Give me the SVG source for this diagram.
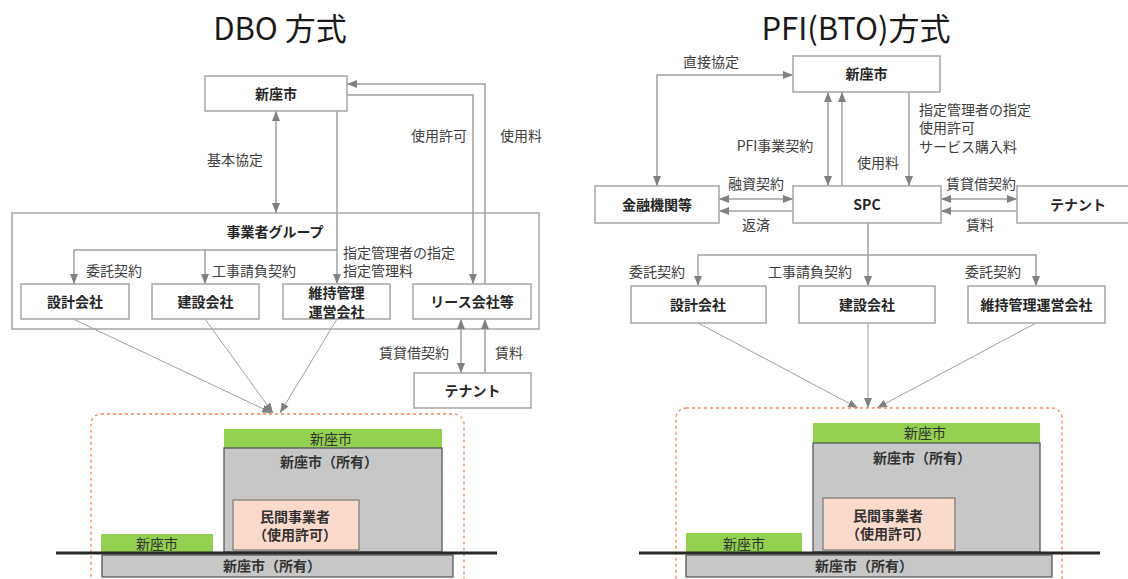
<svg xmlns="http://www.w3.org/2000/svg" width="1128" height="579" viewBox="0 0 1128 579">
<defs>
<marker id="ah" viewBox="0 0 10 8" refX="10" refY="4" markerWidth="10" markerHeight="8" markerUnits="userSpaceOnUse" orient="auto-start-reverse">
<path d="M0,0 L10,4 L0,8 z" fill="#808080"/>
</marker>
<style>
text{font-family:"Noto Sans CJK JP","Noto Sans",sans-serif;}
.title{font-size:31px;fill:#1a1a1a;text-anchor:middle;}
.box{fill:#fff;stroke:#a6a6a6;stroke-width:1.5;}
.bl{font-size:14px;font-weight:bold;fill:#262626;text-anchor:middle;}
.lb{font-size:14px;fill:#404040;}
.m{text-anchor:middle;}
.c{fill:none;stroke:#a0a0a0;stroke-width:1.5;}
.ct{fill:none;stroke:#a0a0a0;stroke-width:1;}
.dash{fill:none;stroke:#f4875a;stroke-width:1.3;stroke-dasharray:3 3;}
.green{fill:#92d050;}
.gray{fill:#c7c7c7;stroke:#595959;stroke-width:1.3;}
.peach{fill:#fcdacb;stroke:#7f7f7f;stroke-width:1.3;}
.gt{font-size:14px;fill:#333;text-anchor:middle;}
.gb{font-size:14px;font-weight:bold;fill:#333;text-anchor:middle;}
</style>
</defs>
<rect width="1128" height="579" fill="#fff"/>

<text class="title" x="280" y="40">DBO 方式</text>
<text class="title" x="856" y="40">PFI(BTO)方式</text>

<!-- LEFT: DBO -->
<g id="l-group"><rect class="box" x="12" y="213" width="527" height="116"/><text class="bl" x="275" y="237">事業者グループ</text></g>

<g id="l-connectors">
<path class="c" d="M485,284 V84 H347" marker-end="url(#ah)"/>
<path class="c" d="M347,95 H473 V284" marker-end="url(#ah)"/>
<path class="c" d="M276,111 V213" marker-start="url(#ah)" marker-end="url(#ah)"/>
<path class="c" d="M337,111 V284" marker-end="url(#ah)"/>
<path class="c" d="M337,250 H74 V284" marker-end="url(#ah)"/>
<path class="c" d="M205,250 V284" marker-end="url(#ah)"/>
<path class="c" d="M461,319 V373" marker-start="url(#ah)" marker-end="url(#ah)"/>
<path class="c" d="M485,373 V319" marker-end="url(#ah)"/>
<path class="ct" d="M73,319 L272,413" marker-end="url(#ah)"/>
<path class="ct" d="M205,319 L273,413" marker-end="url(#ah)"/>
<path class="ct" d="M337,319 L280,413" marker-end="url(#ah)"/>
</g>

<g id="l-labels">
<text class="lb m" x="439" y="141">使用許可</text>
<text class="lb m" x="521" y="141">使用料</text>
<text class="lb m" x="235" y="165">基本協定</text>
<text class="lb m" x="114" y="276">委託契約</text>
<text class="lb m" x="254" y="276">工事請負契約</text>
<text class="lb" x="343" y="258">指定管理者の指定</text>
<text class="lb" x="343" y="276">指定管理料</text>
<text class="lb m" x="414" y="358">賃貸借契約</text>
<text class="lb m" x="509" y="358">賃料</text>
</g>

<g id="l-city"><rect class="box" x="205" y="76" width="142" height="35"/><text class="bl" x="276" y="98.5">新座市</text></g>
<g id="l-design"><rect class="box" x="21" y="284" width="108" height="35"/><text class="bl" x="75" y="306.5">設計会社</text></g>
<g id="l-build"><rect class="box" x="152" y="284" width="107" height="35"/><text class="bl" x="205.5" y="306.5">建設会社</text></g>
<g id="l-ops"><rect class="box" x="283" y="284" width="107" height="35"/><text class="bl" x="336.5" y="298">維持管理</text><text class="bl" x="336.5" y="316.5">運営会社</text></g>
<g id="l-lease"><rect class="box" x="413" y="284" width="118" height="35"/><text class="bl" x="472" y="306.5">リース会社等</text></g>
<g id="l-tenant"><rect class="box" x="414" y="373" width="117" height="35"/><text class="bl" x="472.5" y="395.5">テナント</text></g>

<g id="l-building">
<rect class="dash" x="91" y="414" width="373" height="200" rx="10"/>
<rect class="green" x="224" y="429" width="218" height="19"/>
<text class="gt" x="331" y="443.5">新座市</text>
<rect class="gray" x="224" y="448" width="218" height="104"/>
<text class="gb" x="329" y="467">新座市（所有）</text>
<rect class="peach" x="233" y="500" width="126" height="50"/>
<text class="gb" x="295" y="522">民間事業者</text>
<text class="gb" x="295" y="540">（使用許可）</text>
<rect class="green" x="101" y="534" width="112" height="18"/>
<text class="gt" x="157" y="549">新座市</text>
<rect class="gray" x="102" y="555" width="351" height="22"/>
<text class="gb" x="272" y="571">新座市（所有）</text>
<line x1="56" y1="553" x2="497" y2="553" stroke="#262626" stroke-width="3"/>
</g>

<!-- RIGHT: PFI -->
<g id="r-connectors">
<path class="c" d="M793,75 H657 V186" marker-start="url(#ah)" marker-end="url(#ah)"/>
<path class="c" d="M828,92 V186" marker-start="url(#ah)" marker-end="url(#ah)"/>
<path class="c" d="M842,186 V92" marker-end="url(#ah)"/>
<path class="c" d="M909,92 V186" marker-end="url(#ah)"/>
<path class="c" d="M719,199 H793" marker-start="url(#ah)" marker-end="url(#ah)"/>
<path class="c" d="M793,211 H719" marker-end="url(#ah)"/>
<path class="c" d="M941,199 H1017" marker-start="url(#ah)" marker-end="url(#ah)"/>
<path class="c" d="M1017,211 H941" marker-end="url(#ah)"/>
<path class="c" d="M868,223 V286" marker-end="url(#ah)"/>
<path class="c" d="M868,255 H698 V286" marker-end="url(#ah)"/>
<path class="c" d="M868,255 H1036 V286" marker-end="url(#ah)"/>
<path class="ct" d="M698,323 L858,408" marker-end="url(#ah)"/>
<path class="ct" d="M868,323 L868,408" marker-end="url(#ah)"/>
<path class="ct" d="M1036,323 L877,408" marker-end="url(#ah)"/>
</g>

<g id="r-labels">
<text class="lb m" x="711" y="67">直接協定</text>
<text class="lb m" x="775" y="151">PFI事業契約</text>
<text class="lb m" x="878" y="168">使用料</text>
<text class="lb" x="919" y="115">指定管理者の指定</text>
<text class="lb" x="919" y="133">使用許可</text>
<text class="lb" x="919" y="151.5">サービス購入料</text>
<text class="lb m" x="756" y="189">融資契約</text>
<text class="lb m" x="756" y="230">返済</text>
<text class="lb m" x="981" y="189">賃貸借契約</text>
<text class="lb m" x="980" y="230">賃料</text>
<text class="lb m" x="657" y="277">委託契約</text>
<text class="lb m" x="810" y="277">工事請負契約</text>
<text class="lb m" x="993" y="277">委託契約</text>
</g>

<g id="r-city"><rect class="box" x="793" y="56" width="147" height="36"/><text class="bl" x="866.5" y="79">新座市</text></g>
<g id="r-bank"><rect class="box" x="595" y="186" width="124" height="37"/><text class="bl" x="657" y="209.5">金融機関等</text></g>
<g id="r-spc"><rect class="box" x="793" y="186" width="148" height="37"/><text class="bl" x="867" y="209.5">SPC</text></g>
<g id="r-tenant"><rect class="box" x="1017" y="186" width="130" height="37"/><text class="bl" x="1078" y="209.5">テナント</text></g>
<g id="r-design"><rect class="box" x="631" y="286" width="135" height="37"/><text class="bl" x="698" y="309.5">設計会社</text></g>
<g id="r-build"><rect class="box" x="799" y="286" width="136" height="37"/><text class="bl" x="867" y="309.5">建設会社</text></g>
<g id="r-ops"><rect class="box" x="968" y="286" width="137" height="37"/><text class="bl" x="1036.5" y="309.5">維持管理運営会社</text></g>

<g id="r-building">
<rect class="dash" x="676" y="408" width="386" height="200" rx="10"/>
<rect class="green" x="813" y="423" width="227" height="20"/>
<text class="gt" x="925" y="438">新座市</text>
<rect class="gray" x="813" y="443" width="227" height="109"/>
<text class="gb" x="922" y="463">新座市（所有）</text>
<rect class="peach" x="823" y="498" width="132" height="52"/>
<text class="gb" x="888" y="521">民間事業者</text>
<text class="gb" x="888" y="539">（使用許可）</text>
<rect class="green" x="686" y="533" width="116" height="19"/>
<text class="gt" x="744" y="549">新座市</text>
<rect class="gray" x="686" y="555" width="366" height="22"/>
<text class="gb" x="864" y="571">新座市（所有）</text>
<line x1="639" y1="553" x2="1100" y2="553" stroke="#262626" stroke-width="3"/>
</g>
</svg>
